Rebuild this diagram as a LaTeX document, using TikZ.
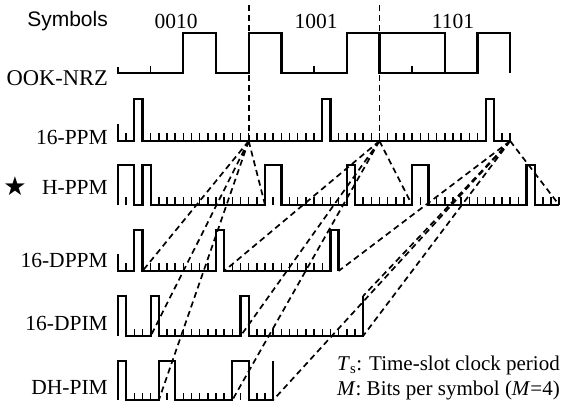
\documentclass[tikz,border=0pt]{standalone}
\usepackage{fontspec}
\setmainfont{Liberation Serif}
\newfontfamily\symfont{Liberation Sans}
\newfontfamily\starfont{DejaVu Sans}

\begin{document}
\begin{tikzpicture}[
  x=1pt,y=-1pt,
  wave/.style={line width=2.2pt},
  slot/.style={line width=1.5pt},
  link/.style={line width=1.7pt,dash pattern=on 6pt off 4pt},
  lbl/.style={anchor=east,inner sep=0pt,font=\fontsize{21.5}{24}\selectfont},
  bits/.style={inner sep=0pt,font=\fontsize{21.5}{24}\selectfont},
  note/.style={anchor=west,inner sep=0pt,font=\fontsize{21}{24}\selectfont}
]
\useasboundingbox (0,0) rectangle (562,402);

% row labels
\node[lbl,font=\symfont\fontsize{21}{24}\selectfont] (symbols) at (108,21) {Symbols};
\node[lbl,font=\fontsize{22.5}{24}\selectfont] (ook) at (108,78) {OOK-NRZ};
\node[lbl] (ppm) at (108,137) {16-PPM};
\node[lbl] (hppm) at (108,187) {H-PPM};
\node[inner sep=0pt,font=\starfont\fontsize{26}{28}\selectfont] (star) at (15,186) {★};
\node[lbl] (dppm) at (108,260) {16-DPPM};
\node[lbl] (dpim) at (108,323) {16-DPIM};
\node[lbl] (dhpim) at (108,387) {DH-PIM};
\node[bits] (sym1) at (176,21) {0010};
\node[bits] (sym2) at (316,21) {1001};
\node[bits] (sym3) at (453,21) {1101};

% OOK-NRZ, one unit = one bit
\begin{scope}[shift={(118,73)},x=32.68pt]
  \draw[wave] (0,-6) -- (0,0) -- (2,0) -- (2,-40) -- (3,-40) -- (3,0) -- (4,0) -- (4,-40) -- (5,-40)
    -- (5,0) -- (7,0) -- (7,-40) -- (10,-40) -- (10,0) -- (11,0) -- (11,-40) -- (12,-40) -- (12,0);
  \draw[wave] (8,-40) -- (8,0) -- (10,0);
  \foreach \k in {1,6,9} \draw[slot] (\k,0) -- (\k,-7);
  \coordinate (cut1) at (4,-68);
  \coordinate (cut2) at (8,-68);
\end{scope}

% 16-PPM, one unit = one slot
\begin{scope}[shift={(118,141)},x=8.17pt]
  \draw[wave] (0,-17) -- (0,0) -- (2,0) -- (2,-42) -- (3,-42) -- (3,0) -- (25,0) -- (25,-42) -- (26,-42)
    -- (26,0) -- (45,0) -- (45,-42) -- (46,-42) -- (46,0) -- (48,0);
  \foreach \k in {1,...,48} \draw[slot] (\k,0) -- (\k,-8);
  \coordinate (p1) at (16,0);
  \coordinate (p2) at (32,0);
  \coordinate (p3) at (48,0);
\end{scope}

% H-PPM
\begin{scope}[shift={(118,205)},x=8.17pt]
  \draw[wave] (0,0) -- (0,-40) -- (2,-40) -- (2,0) -- (3,0) -- (3,-40) -- (4,-40) -- (4,0) -- (18,0)
    -- (18,-40) -- (20,-40) -- (20,0) -- (28,0) -- (28,-40) -- (29,-40) -- (29,0) -- (36,0) -- (36,-40)
    -- (38,-40) -- (38,0) -- (50,0) -- (50,-40) -- (51,-40) -- (51,0) -- (54,0);
  \foreach \k in {1,...,54} \draw[slot] (\k,0) -- (\k,-8);
  \coordinate (h1) at (18,0);
  \coordinate (h2) at (36,0);
  \coordinate (h3) at (54,0);
\end{scope}

% 16-DPPM
\begin{scope}[shift={(118,271)},x=8.17pt]
  \draw[wave] (0,-17) -- (0,0) -- (2,0) -- (2,-41) -- (3,-41) -- (3,0) -- (12,0) -- (12,-41) -- (13,-41)
    -- (13,0) -- (26,0) -- (26,-41) -- (27,-41) -- (27,0);
  \foreach \k in {1,...,25} \draw[slot] (\k,0) -- (\k,-8);
  \coordinate (d1) at (3,0);
  \coordinate (d2) at (13,0);
  \coordinate (d3) at (27,0);
\end{scope}

% 16-DPIM
\begin{scope}[shift={(118,336)},x=8.17pt]
  \draw[wave] (0,0) -- (0,-40) -- (1,-40) -- (1,0) -- (4,0) -- (4,-40) -- (5,-40) -- (5,0) -- (15,0)
    -- (15,-40) -- (16,-40) -- (16,0) -- (30,0) -- (30,-40);
  \foreach \k in {1,...,29} \draw[slot] (\k,0) -- (\k,-7);
  \coordinate (i1) at (4,0);
  \coordinate (i2) at (15,0);
  \coordinate (i3) at (30,0);
  \coordinate (i3top) at (30,-40);
\end{scope}

% DH-PIM
\begin{scope}[shift={(118,400)},x=8.17pt]
  \draw[wave] (0,0) -- (0,-39) -- (1,-39) -- (1,0) -- (5,0) -- (5,-39) -- (7,-39) -- (7,0) -- (14,0)
    -- (14,-39) -- (16,-39) -- (16,0) -- (19,0) -- (19,-39);
  \foreach \k in {1,...,18} \draw[slot] (\k,0) -- (\k,-7);
  \coordinate (e1) at (5,0);
  \coordinate (e2) at (14,0);
  \coordinate (e3) at (19,0);
\end{scope}

% symbol boundaries
\draw[link] (cut1) -- (p1);
\draw[link] (cut2) -- (p2);
\foreach \s/\a/\b/\c/\d in {p1/h1/d1/i1/e1,p2/h2/d2/i2/e2,p3/h3/d3/i3/e3}
  \draw[link] (\s) -- (\a) (\s) -- (\b) (\s) -- (\c) (\s) -- (\d);
\draw[link] (p3) -- (i3top);

% legend
\node[note] (tsnote) at (337,365) {\textit{T}\textsubscript{s}: Time-slot clock period};
\node[note] (mnote) at (337,390) {\textit{M}: Bits per symbol (\textit{M}=4)};
\end{tikzpicture}
\end{document}
